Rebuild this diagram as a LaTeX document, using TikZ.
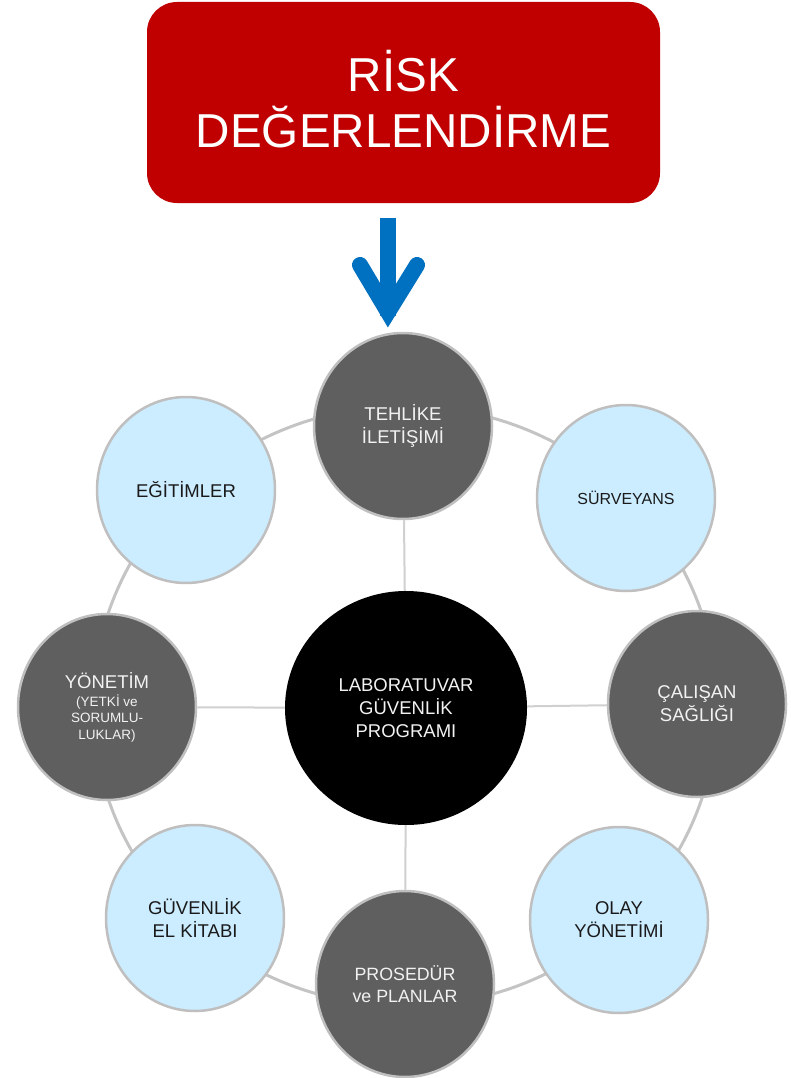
\documentclass[tikz,border=0pt]{standalone}
\usepackage{fontspec}
\setmainfont{Liberation Sans}
\usetikzlibrary{shapes.geometric}
\definecolor{riskred}{RGB}{192,0,0}
\definecolor{darkc}{RGB}{95,95,95}
\definecolor{lightc}{RGB}{204,236,255}
\definecolor{rimc}{RGB}{191,191,191}
\definecolor{ringc}{RGB}{196,196,196}
\definecolor{spokec}{RGB}{208,208,208}
\definecolor{arrowc}{RGB}{0,112,192}
\definecolor{paletext}{RGB}{242,242,242}
\definecolor{inktext}{RGB}{26,26,26}
\newcommand\mysmallsz{\fontsize{13.5}{16.5}\selectfont}
\begin{document}
\begin{tikzpicture}[x=1pt,y=-1pt,
  bub/.style={ellipse, minimum width=178pt, minimum height=186pt, inner sep=0pt,
    draw=rimc, line width=2.5pt, align=center, font=\fontsize{18.5}{23}\selectfont},
  darkbub/.style={bub, fill=darkc, text=paletext},
  lightbub/.style={bub, fill=lightc, text=inktext},
  ringline/.style={draw=ringc, line width=3pt},
  spokeline/.style={draw=spokec, line width=2pt},
  bluearrow/.style={draw=arrowc, line width=16pt}]
\useasboundingbox (0,0) rectangle (790,1078);

% header box
\node[fill=riskred, rounded corners=30pt, minimum width=513pt, minimum height=201pt,
  inner sep=0pt, text=white, align=center, text depth=8pt,
  font=\fontsize{47.6}{56}\selectfont] (risk) at (403.5,102.5) {RİSK\\DEĞERLENDİRME};

% ring
\coordinate (ringo) at (405,706);
\draw[ringline] (ringo) ellipse [x radius=312pt, y radius=300pt];

% nodes
\node[darkbub] (tehlike) at (403,426) {TEHLİKE\\İLETİŞİMİ};
\node[lightbub] (egitim) at (186,490) {EĞİTİMLER};
\node[lightbub, font=\fontsize{16}{20}\selectfont] (surv) at (626,498) {SÜRVEYANS};
\node[darkbub] (yonetim) at (107,707)
  {YÖNETİM\\[-5pt]{\mysmallsz (YETKİ ve}\\[-6.5pt]{\mysmallsz SORUMLU-}\\[-6.5pt]{\mysmallsz LUKLAR)}};
\node[darkbub] (calisan) at (697,704) {ÇALIŞAN\\SAĞLIĞI};
\node[lightbub] (guvenlik) at (195,918) {GÜVENLİK\\EL KİTABI};
\node[darkbub, font=\fontsize{17.8}{22}\selectfont] (prosedur) at (405,984) {PROSEDÜR\\ve PLANLAR};
\node[lightbub] (olay) at (619,920) {OLAY\\YÖNETİMİ};
\node[ellipse, fill=black, minimum width=242pt, minimum height=234pt, inner sep=0pt,
  text=paletext, align=center, font=\fontsize{18.5}{23}\selectfont] (lab) at (406,708)
  {LABORATUVAR\\GÜVENLİK\\PROGRAMI};

% spokes
\draw[spokeline] (lab) -- (tehlike);
\draw[spokeline] (lab) -- (yonetim);
\draw[spokeline] (lab) -- (calisan);
\draw[spokeline] (lab) -- (prosedur);

% blue arrow from header to TEHLİKE
\coordinate (ashaft) at (388,218);
\coordinate (atip) at (388,312);
\coordinate (aleft) at (360,265);
\coordinate (aright) at (417,265);
\draw[bluearrow] (ashaft) -- ([yshift=-4pt]atip);
\draw[bluearrow, line cap=round, miter limit=10] (aleft) -- (atip) -- (aright);
\end{tikzpicture}
\end{document}
